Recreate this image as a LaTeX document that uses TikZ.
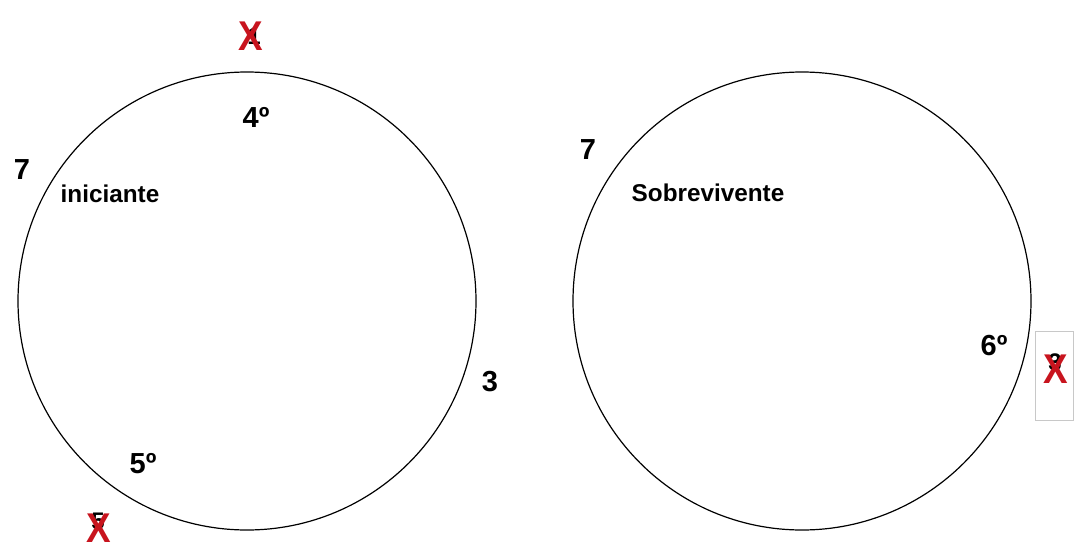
\documentclass[tikz,border=0pt]{standalone}
\usepackage{fontspec}
\setmainfont{Liberation Sans}
\begin{document}
\begin{tikzpicture}[x=1pt,y=-1pt,
  ring/.style={draw=black, line width=1.2pt},
  num/.style={font=\fontsize{29}{29}\selectfont\bfseries, inner sep=0pt, text=black},
  lbl/.style={font=\fontsize{24.3}{24}\selectfont\bfseries, inner sep=0pt, text=black},
  cross/.style={font=\fontsize{32}{32}\selectfont\bfseries, inner sep=0pt, text={rgb,255:red,200;green,20;blue,30}},
  under/.style={font=\fontsize{24}{24}\selectfont\bfseries, inner sep=0pt, text=black}]
\useasboundingbox (0,0) rectangle (1074,552);
% circles
\node[ring, circle, minimum size=458pt, inner sep=0pt] (c1) at (247,301) {};
\node[ring, circle, minimum size=458pt, inner sep=0pt] (c2) at (802,301) {};
% left circle texts
\node[under] (u1) at (254,36) {1};
\node[cross] (x1) at (251,36) {\scalebox{1.15}[1.3]{X}};
\node[num] (n4) at (256,117) {4º};
\node[num] (n7a) at (22,170) {7};
\node[lbl] (lin) at (110,194) {iniciante};
\node[num] (n3) at (490,382) {3};
\node[num] (n5) at (143,464) {5º};
\node[under] (u5) at (98,521) {5};
\node[cross] (x5) at (99,528) {\scalebox{1.15}[1.3]{X}};
% right circle texts
\node[num] (n7b) at (588,150) {7};
\node[lbl] (lsb) at (708,193) {Sobrevivente};
\node[num] (n6) at (994,346) {6º};
\node[draw={rgb,255:red,200;green,200;blue,200}, line width=0.6pt, minimum width=38pt, minimum height=89pt, inner sep=0pt] (box) at (1054.5,375.5) {};
\node[under] (u3) at (1055,362) {3};
\node[cross] (x3) at (1056,369) {\scalebox{1.15}[1.3]{X}};
\end{tikzpicture}
\end{document}
